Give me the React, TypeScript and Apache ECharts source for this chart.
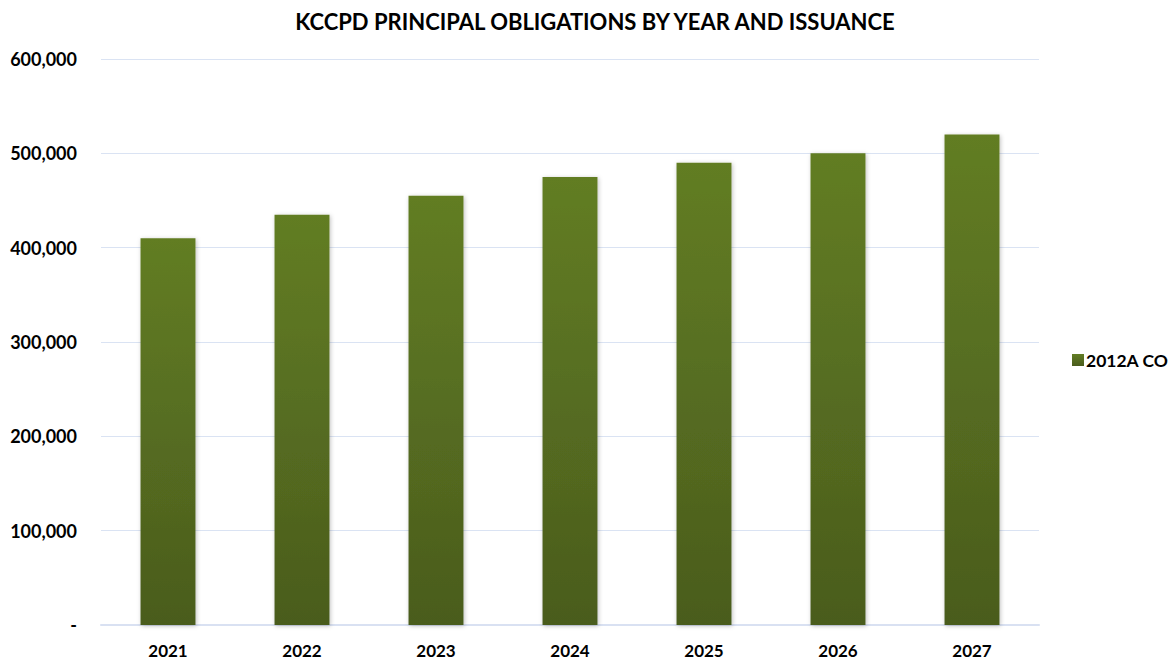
import React, { useEffect, useRef } from "react";
import * as echarts from "echarts";

const categories = ["2021", "2022", "2023", "2024", "2025", "2026", "2027"];
const seriesName = "2012A CO";
const values = [410000, 435000, 455000, 475000, 490000, 500000, 520000];
const titleText = "KCCPD PRINCIPAL OBLIGATIONS BY YEAR AND ISSUANCE";

const FONT = "Lato, 'Open Sans', sans-serif";

export default function App() {
  const ref = useRef<HTMLDivElement>(null);
  useEffect(() => {
    if (!ref.current) return;
    const chart = echarts.init(ref.current, null, { renderer: "svg" });
    chart.setOption({
      animation: false,
      backgroundColor: "#ffffff",
      title: {
        text: titleText,
        left: 590,
        textAlign: "center",
        top: 5,
        textStyle: { fontFamily: FONT, fontWeight: "bold", fontSize: 22, color: "#000" },
      },
      legend: {
        orient: "vertical",
        left: 1067,
        top: 346,
        itemWidth: 12,
        itemHeight: 12,
        itemGap: 6,
        icon: "rect",
        textStyle: { fontFamily: FONT, fontWeight: "bold", fontSize: 17.5, color: "#000", padding: [0, 0, 0, -3] },
        data: [seriesName],
      },
      grid: { left: 101, right: 137, top: 59, bottom: 37, containLabel: false },
      xAxis: {
        type: "category",
        data: categories,
        axisLine: { show: true, lineStyle: { color: "#d9e1f2", width: 2 } },
        axisTick: { show: false },
        axisLabel: { fontFamily: FONT, fontWeight: "bold", fontSize: 17, color: "#000", margin: 17 },
      },
      yAxis: {
        type: "value",
        min: 0,
        max: 600000,
        interval: 100000,
        axisLine: { show: false },
        axisTick: { show: false },
        splitLine: { lineStyle: { color: "#dae3f3", width: 1 } },
        axisLabel: {
          margin: 24,
          fontFamily: FONT,
          fontWeight: "bold",
          fontSize: 18,
          color: "#000",
          formatter: (v: number) => (v === 0 ? "-" : v.toLocaleString("en-US")),
        },
      },
      series: [
        {
          name: seriesName,
          type: "bar",
          data: values,
          barWidth: "41%",
          itemStyle: {
            color: new echarts.graphic.LinearGradient(0, 0, 0, 1, [
              { offset: 0, color: "#627d24" },
              { offset: 1, color: "#4a5c1d" },
            ]),
            shadowColor: "rgba(0,0,0,0.25)",
            shadowBlur: 4,
            shadowOffsetX: 1,
            shadowOffsetY: 1,
          },
        },
      ],
    });
    return () => chart.dispose();
  }, []);
  return <div ref={ref} style={{ width: 1176, height: 662, position: "absolute", left: 0, top: 0 }} />;
}
